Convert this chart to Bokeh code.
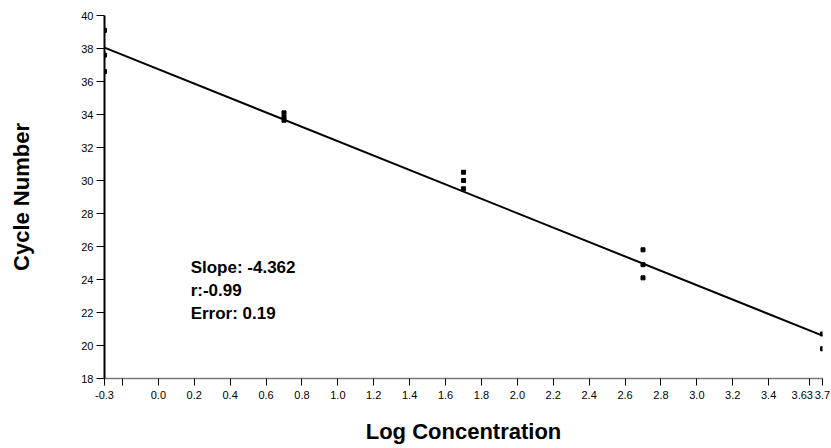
from bokeh.plotting import figure
from bokeh.models import Range1d, FixedTicker, Label
from bokeh.embed import file_html
from bokeh.resources import INLINE

# Data
conc_x = [-0.3, -0.3, -0.3, 0.7, 0.7, 0.7, 1.7, 1.7, 1.7, 2.7, 2.7, 2.7, 3.7, 3.7]
cycle_y = [39.1, 37.6, 36.6, 34.1, 33.85, 33.65, 30.5, 30.0, 29.5, 25.8, 24.9, 24.1, 20.7, 19.8]
fit_x = [-0.3, 3.7]
fit_y = [38.05, 20.6]
x_ticks = [-0.3, -0.2, 0.0, 0.2, 0.4, 0.6, 0.8, 1.0, 1.2, 1.4, 1.6, 1.8, 2.0, 2.2,
           2.4, 2.6, 2.8, 3.0, 3.2, 3.4, 3.63, 3.7]
y_ticks = [18, 20, 22, 24, 26, 28, 30, 32, 34, 36, 38, 40]
stats_lines = ["Slope: -4.362", "r:-0.99", "Error: 0.19"]
stats_y = [24.73, 23.35, 21.95]
stats_x = 0.18

FONT = "Liberation Sans"
NB = "\u00a0"

p = figure(width=831, height=446, output_backend="svg", toolbar_location=None,
           x_range=Range1d(-0.3, 3.7), y_range=Range1d(18, 40),
           min_border_left=104, min_border_right=9, min_border_top=15, min_border_bottom=64)
p.outline_line_color = None
p.xgrid.visible = False
p.ygrid.visible = False
p.background_fill_color = "white"
p.border_fill_color = "white"

p.line(fit_x, fit_y, line_color="black", line_width=2)
p.scatter(conc_x, cycle_y, marker="square", size=4, color="black")

xa = p.xaxis[0]
xa.ticker = FixedTicker(ticks=x_ticks)
xa.major_label_overrides = {-0.2: "", 3.63: "3.63" + NB * 5, 3.7: "3.7",
                            0.0: "0.0", -0.3: "-0.3", 1.0: "1.0", 2.0: "2.0", 3.0: "3.0"}
xa.minor_tick_line_color = None
xa.major_tick_in = 0
xa.major_tick_out = 7
xa.axis_line_color = "#777777"
xa.axis_line_width = 1.5
xa.major_tick_line_color = "black"
xa.major_label_text_font = FONT
xa.major_label_text_font_size = "11px"
xa.major_label_text_color = "black"
xa.major_label_standoff = 3
xa.axis_label = "Log Concentration"
xa.axis_label_text_font = FONT
xa.axis_label_text_font_size = "22px"
xa.axis_label_text_font_style = "bold"
xa.axis_label_text_color = "black"
xa.axis_label_standoff = 15

ya = p.yaxis[0]
ya.ticker = FixedTicker(ticks=y_ticks)
ya.minor_tick_line_color = None
ya.major_tick_in = 0
ya.major_tick_out = 8
ya.axis_line_color = "black"
ya.axis_line_width = 2
ya.major_label_text_font = FONT
ya.major_label_text_font_size = "11px"
ya.major_label_text_color = "black"
ya.major_label_standoff = 3
ya.axis_label = "Cycle Number"
ya.axis_label_text_font = FONT
ya.axis_label_text_font_size = "22px"
ya.axis_label_text_font_style = "bold"
ya.axis_label_text_color = "black"
ya.axis_label_standoff = 44

for t, yy in zip(stats_lines, stats_y):
    p.add_layout(Label(x=stats_x, y=yy, text=t, text_font=FONT, text_font_size="17px",
                       text_font_style="bold", text_color="black", text_baseline="middle"))

open("out.html", "w").write(file_html(p, INLINE))
